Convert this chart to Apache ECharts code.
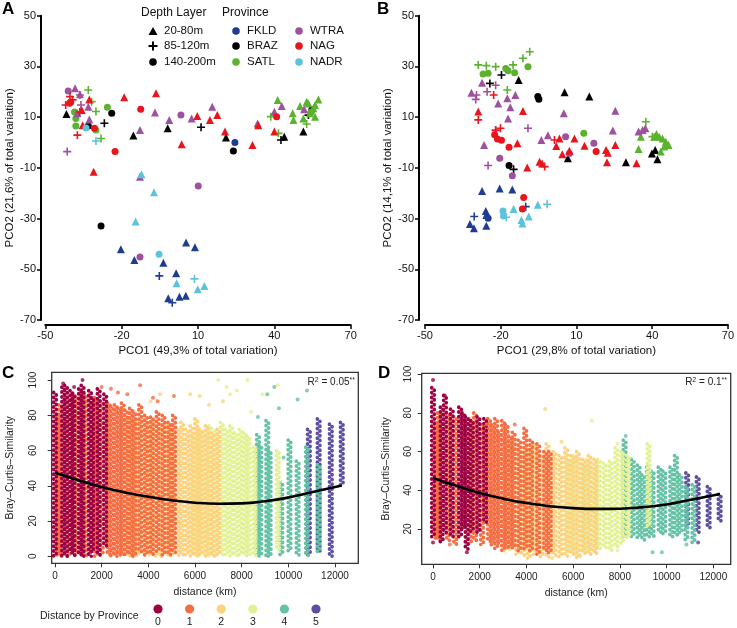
<!DOCTYPE html>
<html>
<head>
<meta charset="utf-8">
<script src="https://cdn.jsdelivr.net/npm/echarts@6/dist/echarts.min.js"></script>
<style>
  html, body { margin: 0; padding: 0; background: #fff; }
  #chart { width: 737px; height: 628px; }
</style>
</head>
<body>
<div id="chart"></div>
<script>
// depth codes: t = 20-80m (triangle), p = 85-120m (cross), c = 140-200m (circle)
const depthLayers = ['20-80m', '85-120m', '140-200m'];
const provinces = ['FKLD', 'BRAZ', 'SATL', 'WTRA', 'NAG', 'NADR'];
const provinceColors = ['#1f3c93', '#000000', '#5bb22e', '#9d519f', '#e8161c', '#5cc3df'];

// panel A: PCO1 (49,3%) vs PCO2 (21,6%)
const pcoA_FKLD = [[-20.3,-42.1,'t'],[-15,-46.3,'t'],[-3.6,-47.4,'t'],[5.3,-39.4,'t'],[8.8,-41.3,'t'],[-5.2,-52.6,'p'],[1.4,-51.6,'t'],[-1.7,-61.4,'t'],[-0.1,-63.2,'p'],[2.7,-60.8,'t'],[5.2,-60.4,'t'],[24.5,0,'c']];
const pcoA_BRAZ = [[-41.7,11.2,'t'],[-33.1,6.5,'c'],[-23.9,11.5,'c'],[-26.8,7.6,'p'],[-28.1,-32.9,'c'],[-15.4,2.8,'t'],[-1.9,5.6,'t'],[11.2,6,'p'],[21,2,'t'],[23.9,-3.4,'c'],[42.6,1,'p'],[43.9,2.3,'t'],[53.4,10.8,'p'],[54.7,12.8,'c'],[51.4,4.3,'t']];
const pcoA_SATL = [[-33.1,20.7,'p'],[-31.8,16.1,'p'],[-30.1,12.2,'p'],[-38,9.5,'c'],[-38,6.5,'c'],[-30.1,4.9,'c'],[-28.1,1.6,'p'],[-25.6,13.9,'c'],[-38.5,12,'c'],[38.6,10.2,'p'],[41.6,3.6,'p'],[41.3,16.8,'t'],[47.2,11.5,'t'],[47.5,8.9,'t'],[50.1,14.4,'t'],[53.4,15.4,'t'],[57.3,17,'t'],[55.3,13.5,'t'],[56,10.2,'t'],[51.4,9.5,'t'],[54,11.5,'t'],[52.7,16.1,'t'],[56,14.8,'t'],[52.7,7.3,'p'],[54.5,12,'c']];
const pcoA_WTRA = [[-41,20.3,'c'],[-38.3,21.4,'t'],[-36.4,19,'t'],[-36.4,18.7,'p'],[-36,14.8,'p'],[-37.4,11.5,'t'],[-33.1,14.1,'t'],[-32.7,9.1,'t'],[-41.4,-3.6,'p'],[-12.8,4.9,'t'],[-6.9,11.8,'t'],[-1.3,8.9,'t'],[3.3,10.8,'c'],[7.5,9.5,'t'],[15.6,14.1,'t'],[-12.8,-13.5,'t'],[10.1,-17.2,'c'],[-12.8,-45.2,'c'],[33.4,7.5,'t'],[40,12.1,'t'],[42.9,14.4,'t'],[51.7,13.1,'t']];
const pcoA_NAG = [[-42,14.8,'p'],[-40.3,18.1,'p'],[-39.3,16.8,'p'],[-40,16,'c'],[-40.5,15.5,'c'],[-32.7,17,'t'],[-35.7,12.8,'t'],[-35.3,6.8,'t'],[-30.7,5.6,'c'],[-37.4,2.9,'p'],[-22.6,-3.6,'c'],[-31,-11.5,'t'],[-19,17.8,'t'],[-12.5,13.1,'c'],[-6.5,19.4,'t'],[3.6,-0.7,'t'],[9.7,10.4,'t'],[14.7,8.9,'t'],[17.6,10.8,'t'],[20.6,4.3,'t'],[31.4,-1,'t'],[33.7,6.8,'t'],[40.9,10.2,'c'],[40,4.3,'t'],[-36.5,12,'p']];
const pcoA_NADR = [[-34,5.7,'c'],[-30.1,0.6,'p'],[-12.2,-12.5,'t'],[-7.3,-19.6,'t'],[-14.5,-31.2,'t'],[-5.3,-44.1,'c'],[1.6,-55.5,'t'],[8.6,-53.8,'p'],[9.9,-57.9,'t'],[12.5,-56.6,'t']];

// panel B: PCO1 (29,8%) vs PCO2 (14,1%)
const pcoB_FKLD = [[-27.4,-19.1,'t'],[-20.4,-18.1,'t'],[-15.4,-18.5,'t'],[-30.5,-29.2,'p'],[-32.2,-32.1,'t'],[-30.6,-33.8,'t'],[-25.9,-27,'t'],[-25.7,-28.6,'t'],[-25,-29.9,'c'],[-25.7,-32.8,'t'],[-10.1,-25.3,'p']];
const pcoB_BRAZ = [[-24.3,23.3,'p'],[-19.7,26.6,'p'],[-12.9,24.6,'t'],[-5.3,18.1,'c'],[-4.9,17.1,'c'],[5.3,19.8,'t'],[15.1,18.1,'t'],[-16.7,-9.1,'c'],[-14.9,-10.6,'p'],[6.6,-6.2,'t'],[29.6,-7.8,'t'],[39.9,-4.3,'t'],[41.2,-3,'t'],[42.1,-6.6,'t']];
const pcoB_SATL = [[-28.9,30.6,'p'],[-25.7,30.3,'p'],[-22,29.9,'p'],[-27,27,'c'],[-25,27.3,'c'],[-18,29.2,'c'],[-17.1,28.3,'c'],[-14.5,27.5,'c'],[-15.1,30.6,'p'],[-11.2,33.2,'p'],[-8.5,35.8,'p'],[-9.2,29.9,'c'],[-17.4,20.7,'p'],[12.9,3.6,'c'],[35.5,2.3,'t'],[37.5,8.2,'p'],[34.6,-2.6,'t'],[41.7,3.3,'t'],[42.8,2.3,'t'],[44.1,1.6,'t'],[45.4,0.3,'t'],[46.5,-1,'t'],[43.4,-3.6,'t'],[40.8,2.3,'t'],[44.8,-1.6,'t'],[40.1,2.3,'p']];
const pcoB_WTRA = [[-31.6,19.6,'t'],[-29.9,17,'p'],[-29.6,18.7,'p'],[-27.4,23.6,'t'],[-25.4,20,'p'],[-22,22.6,'p'],[-21,15.4,'t'],[-17.4,17.4,'t'],[-16.2,13.9,'t'],[-14.2,18.7,'t'],[-17.1,9.5,'t'],[-22,4.9,'p'],[-26.6,-1,'t'],[-25,-9.1,'p'],[-20.4,-6.2,'c'],[-15.4,-13.1,'c'],[-9.2,5.6,'p'],[-3.9,1,'t'],[-1.3,2.9,'t'],[5.7,2.3,'c'],[7.2,-4.3,'c'],[5,11.5,'t'],[16.9,-0.3,'c'],[25.4,12.5,'t'],[24.4,4.7,'t'],[34.6,4.3,'t'],[36.2,4.9,'t'],[37.3,5.6,'t']];
const pcoB_NAG = [[-28.9,12.2,'t'],[-28.9,8.9,'p'],[-22.8,18.7,'p'],[-22,4.7,'p'],[-20.1,5.6,'p'],[-22.4,3.1,'c'],[-21.3,1.4,'c'],[-19.7,0.9,'c'],[-16.7,-1.9,'c'],[-13.4,-0.3,'t'],[-11.2,12.4,'t'],[-9.5,-9.9,'t'],[-4.6,-7.6,'t'],[-3.6,-8.3,'t'],[-2.6,-9.5,'p'],[1.3,1,'p'],[2,-1.4,'t'],[3.3,1.6,'t'],[4.4,-4.6,'t'],[7.2,-3.3,'t'],[9.2,1.6,'t'],[13.2,-1.3,'t'],[17.8,-3.6,'c'],[21.7,-3,'t'],[22.4,-4,'t'],[25.4,-1,'t'],[22.1,-7.8,'t'],[33.8,-8.2,'t'],[-10.9,-21.7,'c'],[-11.4,-26.2,'c']];
const pcoB_NADR = [[-19.1,-27,'c'],[-18.9,-29,'c'],[-17.8,-29.5,'p'],[-14.9,-26.2,'t'],[-11.8,-30.6,'t'],[-11.4,-31.9,'t'],[-8.9,-29.2,'t'],[-5.3,-24.6,'t'],[-1.6,-24.4,'p']];

const pcoTicksX = [-50, -20, 10, 40, 70];
const pcoTicksY = [-70, -50, -30, -10, 10, 30, 50];

// panels C and D: distance classes and their colours
const distClasses = ['0', '1', '2', '3', '4', '5'];
const distColors = ['#9e0142', '#f46d43', '#fdd27e', '#e3f196', '#66c2a5', '#5e4fa2'];
const distTicks = [0, 2000, 4000, 6000, 8000, 10000, 12000];

// dense stripes of points: [distance km, lowest similarity, highest similarity]
const stripesC = [
  [[0,0,93],[350,0,96],[470,0,97],[700,2,94],[790,0,92],[1070,0,95],[1180,0,97],[1500,0,94],[1600,2,90],[1870,0,95],[2150,6,92]],
  [[130,0,80],[220,0,86],[580,0,90],[920,0,91],[1300,0,92],[1750,0,90],[2000,0,88],[2300,0,87],[2450,0,85],[2600,0,86],[2750,0,84],[2900,0,87],[3050,0,83],[3250,0,84],[3400,0,82],[3650,2,86],[3900,0,80],[4150,0,79],[4400,2,82],[4650,0,80],[4900,0,76],[5100,2,80]],
  [[3150,0,78],[3350,0,80],[3550,0,77],[3780,0,79],[4000,0,76],[4250,0,78],[4500,0,75],[4780,0,76],[5000,0,74],[5250,0,73],[5450,0,76],[5650,0,72],[5850,0,74],[6050,0,78],[6250,0,72],[6500,0,74],[6750,0,70],[7000,0,72]],
  [[5950,0,68],[6150,0,72],[6400,0,70],[6650,0,74],[6900,0,71],[7150,0,76],[7350,0,72],[7550,0,74],[7750,0,70],[7950,0,72],[8150,0,70],[8300,0,68],[8550,0,62],[9550,4,60]],
  [[8700,0,69],[8800,0,63],[9100,0,77],[9200,0,60],[9700,0,42],[10050,3,66],[10400,0,54],[10800,0,62],[11300,2,52]],
  [[10880,0,72],[11300,3,78],[11820,0,75],[12290,40,76]]
];
// scattered single points above the stripes: [distance km, similarity]
const loneC = [
  [[350,98],[1180,100],[820,96]],
  [[2400,95],[2700,93],[3100,92],[3650,97],[4200,90],[4400,88],[5100,91],[2000,96]],
  [[4100,88],[4500,92],[5800,92],[6200,91],[6600,86],[7200,88]],
  [[7000,100],[7350,96],[7500,92],[7800,94],[8250,100],[8400,82],[9550,97],[8900,92]],
  [[8700,79],[9100,92],[9400,96],[9600,84],[10400,89],[10800,94],[9800,56]],
  []
];
const stripesD = [
  [[0,16,93],[370,13,83],[510,18,89],[800,16,82],[1160,16,83],[1300,20,80],[1440,9,78],[1660,18,76],[1940,18,78],[2230,23,77]],
  [[150,15,75],[250,14,80],[640,14,80],[950,12,78],[1580,12,77],[1800,14,80],[2100,12,74],[2400,13,77],[2550,11,74],[2700,10,77],[2850,12,70],[3000,9,76],[3150,10,74],[3300,11,68],[3450,10,70],[3700,8,66],[3950,9,72],[4200,8,66],[4500,7,64],[4800,8,60],[5000,7,60]],
  [[3100,8,66],[3350,9,62],[3600,7,64],[3850,6,60],[4100,5,62],[4350,6,64],[4650,5,58],[4900,5,64],[5200,6,60],[5450,5,58],[5700,6,62],[5950,6,58],[6200,5,60],[6450,7,56],[6700,6,58],[6950,7,56]],
  [[5800,8,56],[6050,7,58],[6350,9,54],[6600,8,56],[6850,8,52],[7100,9,56],[7350,10,54],[7600,9,55],[7850,10,62],[8100,12,60],[8350,15,58],[9230,21,64]],
  [[8200,16,66],[8550,16,56],[8800,15,53],[9000,14,48],[9200,16,52],[9400,16,50],[9700,18,52],[9900,17,50],[10200,16,52],[10400,16,58],[10600,18,48],[10850,14,42],[11150,13,43]],
  [[10880,21,49],[11330,18,47],[11800,20,42],[12270,24,38]]
];
const loneD = [
  [[0,97],[0,13],[500,89],[1450,8]],
  [[2300,74],[3500,74],[720,12]],
  [[4800,82],[5500,65],[6300,6],[5100,5]],
  [[6800,76],[7900,64],[7900,9]],
  [[8250,68],[9400,8],[9800,8],[10850,12]],
  [[11350,13]]
];

// fitted curves: [distance km, similarity]
const fitC = [[0,47.4],[1000,43.2],[2000,39.3],[3000,36.2],[4000,33.8],[5000,31.8],[6000,30.4],[7000,29.8],[8000,30],[9000,31.2],[10000,33.3],[11000,36.3],[12290,40.2]];
const fitD = [[0,46.4],[1000,42.3],[2000,38.6],[3000,35.7],[4000,33.4],[5000,31.8],[6000,30.8],[7000,30.4],[8000,30.5],[9000,31.3],[10000,32.7],[11000,35],[12290,38.1]];

const chart = echarts.init(document.getElementById('chart'));
const FONT = 'Liberation Sans, Arial, sans-serif';
const PLUS = 'path://M4,0h2v4h4v2h-4v4h-2v-4h-4v-2h4z';
const shapeOf = { t: 'triangle', p: PLUS, c: 'circle' };
const sizeOf = { t: 8, p: 8, c: 7 };

function pcoSeries(sets, idx) {
  return sets.map((data, i) => ({
    type: 'scatter',
    xAxisIndex: idx, yAxisIndex: idx,
    data: data,
    symbol: v => shapeOf[v[2]],
    symbolSize: v => sizeOf[v[2]],
    itemStyle: { color: provinceColors[i], opacity: 1 },
    silent: true
  }));
}

// each stripe is drawn as two columns of dots, like the overplotted points
function stripeSeries(sets, idx) {
  const out = [];
  for (let i = sets.length - 1; i >= 0; i--) {
    const color = distColors[i];
    out.push({
      type: 'custom',
      xAxisIndex: idx, yAxisIndex: idx,
      data: sets[i],
      encode: { x: 0, y: [1, 2] },
      clip: true,
      renderItem: (params, api) => {
        const hi = api.coord([api.value(0), api.value(2)]);
        const lo = api.coord([api.value(0), api.value(1)]);
        const dots = { stroke: color, lineWidth: 3.6, lineCap: 'round', lineDash: [0.4, 4.4] };
        return {
          type: 'group',
          children: [
            { type: 'line', shape: { x1: hi[0] - 1.3, y1: hi[1], x2: lo[0] - 1.3, y2: lo[1] }, style: dots },
            { type: 'line', shape: { x1: hi[0] + 1.3, y1: hi[1] + 2.4, x2: lo[0] + 1.3, y2: lo[1] }, style: dots }
          ]
        };
      }
    });
  }
  return out;
}

function loneSeries(sets, idx) {
  return sets.map((data, i) => ({
    type: 'scatter',
    xAxisIndex: idx, yAxisIndex: idx,
    data: data,
    symbolSize: 4,
    itemStyle: { color: distColors[i] },
    silent: true
  }));
}

function fitSeries(data, idx) {
  return {
    type: 'line', xAxisIndex: idx, yAxisIndex: idx,
    data: data, smooth: true, showSymbol: false,
    lineStyle: { color: '#000', width: 2.6 }, silent: true
  };
}

const pcoAxisX = (gridIndex, name, offset) => ({
  type: 'value', gridIndex, min: -50, max: 70, offset,
  name, nameLocation: 'middle', nameGap: 20,
  nameTextStyle: { fontFamily: FONT, fontSize: 11.5, color: '#111' },
  axisLine: { show: true, onZero: false, lineStyle: { color: '#000', width: 2 } },
  axisTick: { show: true, customValues: pcoTicksX, length: 4, lineStyle: { color: '#000', width: 1.5 } },
  axisLabel: { customValues: pcoTicksX, fontFamily: FONT, fontSize: 11, color: '#111', margin: 5 },
  splitLine: { show: false }
});
const pcoAxisY = (gridIndex, name, offset) => ({
  type: 'value', gridIndex, min: -70, max: 50, offset,
  name, nameLocation: 'middle', nameGap: 24, nameRotate: 90,
  nameTextStyle: { fontFamily: FONT, fontSize: 11.5, color: '#111' },
  axisLine: { show: true, onZero: false, lineStyle: { color: '#000', width: 2 } },
  axisTick: { show: true, customValues: pcoTicksY, length: 4, lineStyle: { color: '#000', width: 1.5 } },
  axisLabel: { customValues: pcoTicksY, fontFamily: FONT, fontSize: 11, color: '#111', margin: 5 },
  splitLine: { show: false }
});
const distAxisX = (gridIndex, min, max) => ({
  type: 'value', gridIndex, min, max,
  name: 'distance (km)', nameLocation: 'middle', nameGap: 23,
  nameTextStyle: { fontFamily: FONT, fontSize: 10.5, color: '#222' },
  axisLine: { show: false, onZero: false },
  axisTick: { show: true, customValues: distTicks, length: 4, lineStyle: { color: '#333' } },
  axisLabel: { customValues: distTicks, formatter: v => String(v), fontFamily: FONT, fontSize: 10, color: '#222', margin: 8 },
  splitLine: { show: false }
});
const distAxisY = (gridIndex, min, max, ticks, margin, gap) => ({
  type: 'value', gridIndex, min, max,
  name: 'Bray\u2013Curtis\u2013Similarity', nameLocation: 'middle', nameGap: gap, nameRotate: 90,
  nameTextStyle: { fontFamily: FONT, fontSize: 10.5, color: '#222' },
  axisLine: { show: false, onZero: false },
  axisTick: { show: true, customValues: ticks, length: 4, lineStyle: { color: '#333' } },
  axisLabel: { customValues: ticks, rotate: 90, fontFamily: FONT, fontSize: 10, color: '#222', margin },
  splitLine: { show: false }
});

// legend pieces for panel A and the distance classes
const legendGraphics = [];
const txt = (x, y, text, extra) => Object.assign({
  type: 'text', x, y,
  style: { text, font: '11.5px ' + FONT, fill: '#111', textVerticalAlign: 'middle' }
}, extra || {});
const letter = (x, y, t) => txt(x, y, t, { style: { text: t, font: 'bold 17px ' + FONT, fill: '#000', textVerticalAlign: 'middle' } });

legendGraphics.push(letter(2, 9, 'A'), letter(377, 9, 'B'), letter(2, 373, 'C'), letter(378, 373, 'D'));

legendGraphics.push(txt(141, 13, 'Depth Layer', { style: { text: 'Depth Layer', font: '12px ' + FONT, fill: '#111', textVerticalAlign: 'middle' } }));
legendGraphics.push(txt(222, 13, 'Province', { style: { text: 'Province', font: '12px ' + FONT, fill: '#111', textVerticalAlign: 'middle' } }));
const rowY = [31, 46, 62];
legendGraphics.push({ type: 'polygon', shape: { points: [[153, 27], [157.5, 35], [148.5, 35]] }, style: { fill: '#000' } });
legendGraphics.push({ type: 'rect', shape: { x: 148.5, y: 45, width: 9, height: 2 }, style: { fill: '#000' } });
legendGraphics.push({ type: 'rect', shape: { x: 152, y: 41.5, width: 2, height: 9 }, style: { fill: '#000' } });
legendGraphics.push({ type: 'circle', shape: { cx: 153, cy: 62, r: 3.8 }, style: { fill: '#000' } });
depthLayers.forEach((d, i) => legendGraphics.push(txt(164, rowY[i], d)));
provinces.forEach((p, i) => {
  const x = i < 3 ? 236 : 299;
  const y = rowY[i % 3];
  legendGraphics.push({ type: 'circle', shape: { cx: x, cy: y, r: 3.8 }, style: { fill: provinceColors[i] } });
  legendGraphics.push(txt(x + 11, y, p));
});

legendGraphics.push(txt(40, 616, 'Distance by Province', { style: { text: 'Distance by Province', font: '10.5px ' + FONT, fill: '#222', textVerticalAlign: 'middle' } }));
distClasses.forEach((c, i) => {
  const x = 158 + i * 31.6;
  legendGraphics.push({ type: 'circle', shape: { cx: x, cy: 609, r: 4.6 }, style: { fill: distColors[i] } });
  legendGraphics.push({ type: 'text', x, y: 622, style: { text: c, font: '10.5px ' + FONT, fill: '#222', textAlign: 'center', textVerticalAlign: 'middle' } });
});

const r2 = (x, value) => ({
  type: 'text', x, y: 382,
  style: {
    text: '{a|R}{s|2}{a| = ' + value + '}{s|**}',
    textAlign: 'right', textVerticalAlign: 'middle',
    rich: {
      a: { fontFamily: FONT, fontSize: 10, fill: '#222' },
      s: { fontFamily: FONT, fontSize: 7, fill: '#222', verticalAlign: 'top', padding: [0, 0, 4, 0] }
    }
  }
});
legendGraphics.push(r2(355, '0.05'), r2(727, '0.1'));

chart.setOption({
  animation: false,
  backgroundColor: '#fff',
  grid: [
    { left: 45.3, top: 15.7, width: 305.4, height: 304.3 },
    { left: 425, top: 15.7, width: 304, height: 304.3 },
    { left: 51.7, top: 372.3, width: 306.6, height: 191, show: true, borderColor: '#333', borderWidth: 1.3 },
    { left: 421.7, top: 373.3, width: 309, height: 191, show: true, borderColor: '#333', borderWidth: 1.3 }
  ],
  xAxis: [
    pcoAxisX(0, 'PCO1 (49,3% of total variation)', 5),
    pcoAxisX(1, 'PCO1 (29,8% of total variation)', 5),
    distAxisX(2, -141, 13000),
    distAxisX(3, -484, 12745)
  ],
  yAxis: [
    pcoAxisY(0, 'PCO2 (21,6% of total variation)', 4.3),
    pcoAxisY(1, 'PCO2 (14,1% of total variation)', 6),
    distAxisY(2, -4, 104.4, [0, 20, 40, 60, 80, 100], 13, 36),
    distAxisY(3, 1.8, 100.4, [20, 40, 60, 80, 100], 8, 30)
  ],
  series: [].concat(
    pcoSeries([pcoA_FKLD, pcoA_BRAZ, pcoA_SATL, pcoA_WTRA, pcoA_NAG, pcoA_NADR], 0),
    pcoSeries([pcoB_FKLD, pcoB_BRAZ, pcoB_SATL, pcoB_WTRA, pcoB_NAG, pcoB_NADR], 1),
    stripeSeries(stripesC, 2),
    loneSeries(loneC, 2),
    [fitSeries(fitC, 2)],
    stripeSeries(stripesD, 3),
    loneSeries(loneD, 3),
    [fitSeries(fitD, 3)]
  ),
  graphic: legendGraphics
});
</script>
</body>
</html>
